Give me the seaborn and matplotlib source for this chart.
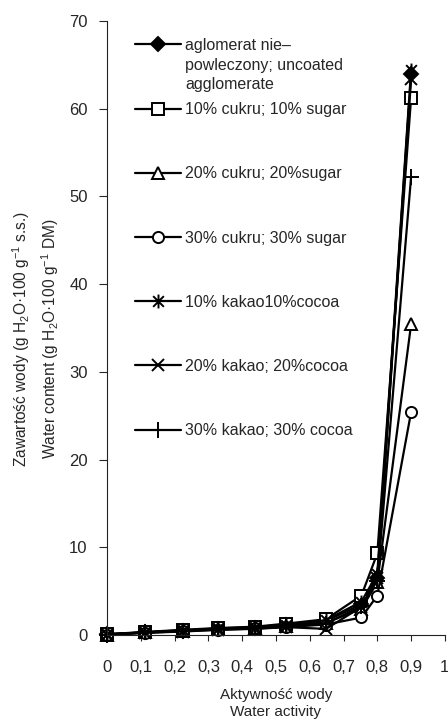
import numpy as np
import pandas as pd
import matplotlib
matplotlib.use("Agg")
import matplotlib.pyplot as plt
from matplotlib.path import Path
from matplotlib.ticker import FixedLocator, FixedFormatter
import seaborn as sns

# Water activity of the storage environments
aw = [0.0, 0.113, 0.225, 0.329, 0.438, 0.53, 0.648, 0.753, 0.80, 0.90]

# Equilibrium water content, g H2O / 100 g dry matter
uncoated = [0.10, 0.30, 0.50, 0.70, 0.85, 1.10, 1.60, 3.5, 6.5, 64.0]
sugar10 = [0.10, 0.35, 0.60, 0.80, 0.95, 1.30, 1.80, 4.5, 9.3, 61.2]
sugar20 = [0.05, 0.30, 0.50, 0.70, 0.80, 1.00, 1.40, 3.0, 6.0, 35.4]
sugar30 = [0.05, 0.25, 0.45, 0.60, 0.75, 0.90, 1.20, 2.0, 4.5, 25.4]
cocoa10 = [0.10, 0.30, 0.55, 0.75, 0.90, 1.20, 1.70, 3.8, 7.0, 64.4]
cocoa20 = [0.05, 0.25, 0.40, 0.60, 0.70, 0.90, 0.70, 3.2, 6.5, 63.4]
cocoa30 = [0.05, 0.30, 0.50, 0.65, 0.80, 1.00, 1.30, 3.3, 6.2, 52.2]

series_labels = [
    "aglomerat nie–",
    "10% cukru; 10% sugar",
    "20% cukru; 20%sugar",
    "30% cukru; 30% sugar",
    "10% kakao10%cocoa",
    "20% kakao; 20%cocoa",
    "30% kakao; 30% cocoa",
]
first_label_rest = "powleczony; uncoated\nagglomerate"

x_ticks = [0, 0.1, 0.2, 0.3, 0.4, 0.5, 0.6, 0.7, 0.8, 0.9, 1.0]
x_tick_labels = ["0", "0,1", "0,2", "0,3", "0,4", "0,5", "0,6", "0,7", "0,8", "0,9", "1"]
y_ticks = [0, 10, 20, 30, 40, 50, 60, 70]

sns.set_style("ticks")
plt.rcParams["font.family"] = ["Liberation Sans", "DejaVu Sans"]
plt.rcParams["mathtext.fontset"] = "custom"
plt.rcParams["mathtext.rm"] = "Liberation Sans"
plt.rcParams["mathtext.it"] = "Liberation Sans:italic"
plt.rcParams["mathtext.bf"] = "Liberation Sans:bold"

# Asterisk-style marker: an "x" crossed by a vertical bar
star = Path(
    [(-1, -1), (1, 1), (1, -1), (-1, 1), (0, -1.3), (0, 1.3)],
    [Path.MOVETO, Path.LINETO, Path.MOVETO, Path.LINETO, Path.MOVETO, Path.LINETO],
)

styles = [
    dict(marker="D", markerfacecolor="black", markersize=7),
    dict(marker="s", markerfacecolor="white", markersize=8),
    dict(marker="^", markerfacecolor="white", markersize=9),
    dict(marker="o", markerfacecolor="white", markersize=8),
    dict(marker=star, markerfacecolor="none", markersize=10),
    dict(marker="x", markerfacecolor="none", markersize=9),
    dict(marker="+", markerfacecolor="none", markersize=11),
]
values = [uncoated, sugar10, sugar20, sugar30, cocoa10, cocoa20, cocoa30]

fig = plt.figure(figsize=(4.48, 7.2), dpi=100)
ax = fig.add_axes([0.239, 0.118, 0.754, 0.853])

for vals, lab, st in zip(values, series_labels, styles):
    df = pd.DataFrame({"aw": aw, "wc": vals})
    sns.lineplot(
        data=df, x="aw", y="wc", ax=ax, color="black", linewidth=1.6,
        markeredgecolor="black", markeredgewidth=1.4, label=lab,
        clip_on=False, **st,
    )

ax.set_xlim(0, 1.0)
ax.set_ylim(0, 70)
ax.xaxis.set_major_locator(FixedLocator(x_ticks))
ax.xaxis.set_major_formatter(FixedFormatter(x_tick_labels))
ax.yaxis.set_major_locator(FixedLocator(y_ticks))
ax.tick_params(axis="x", length=4, width=0.8, pad=14, labelsize=12)
ax.tick_params(axis="y", length=6, width=0.8, pad=8, labelsize=12)
sns.despine(ax=ax)
for side in ("left", "bottom"):
    ax.spines[side].set_linewidth(0.8)
    ax.spines[side].set_color("#222222")

ax.set_xlabel("Aktywność wody\nWater activity", fontsize=11, linespacing=1.27, labelpad=9.5)
ax.set_ylabel(
    "Zawartość wody (g H$_2$O·100 g$^{-1}$ s.s.)\n"
    "Water content (g H$_2$O·100 g$^{-1}$ DM)",
    fontsize=11.2, linespacing=1.4,
)
ax.yaxis.set_label_coords(-0.137, 0.482)

handles, labels = ax.get_legend_handles_labels()
leg = ax.legend(
    handles, labels, loc="upper left", bbox_to_anchor=(0.083, 0.972),
    frameon=False, fontsize=11.5, handlelength=2.9, handletextpad=0.25,
    labelspacing=3.08, borderpad=0, borderaxespad=0,
)
# Remaining lines of the first entry, set directly under its first line
ax.annotate(
    first_label_rest, xy=(0, 0), xycoords=leg.get_texts()[0],
    xytext=(0, -3.5), textcoords="offset points", ha="left", va="top",
    fontsize=11.5, linespacing=1.38, zorder=10,
)

fig.canvas.draw()
fig.savefig("out.png", dpi=100)
